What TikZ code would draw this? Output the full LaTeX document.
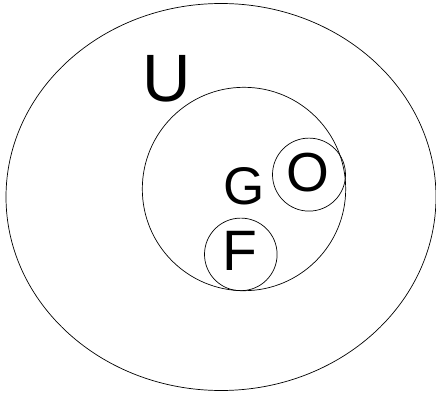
\documentclass[tikz,border=0pt]{standalone}
\usepackage{fontspec}
\setmainfont{Liberation Sans}
\begin{document}
\begin{tikzpicture}[x=1pt,y=-1pt,
  setline/.style={draw=black,line width=0.7pt},
  lbl/.style={inner sep=0pt,anchor=center}]
\useasboundingbox (0,0) rectangle (436,393);
\draw[setline] (221,197) ellipse [x radius=215,y radius=193.5];
\draw[setline] (244,189) circle [radius=101.7];
\draw[setline] (309,174.6) circle [radius=36.5];
\draw[setline] (240.8,254.4) circle [radius=36.3];
\node[lbl,font=\fontsize{67}{67}\selectfont] (U) at (166.7,79) {U};
\node[lbl,font=\fontsize{53}{53}\selectfont] (G) at (244,185.8) {G};
\node[lbl,font=\fontsize{55}{55}\selectfont] (O) at (308,172.2) {O};
\node[lbl,font=\fontsize{57}{57}\selectfont] (F) at (240,250.8) {F};
\end{tikzpicture}
\end{document}
